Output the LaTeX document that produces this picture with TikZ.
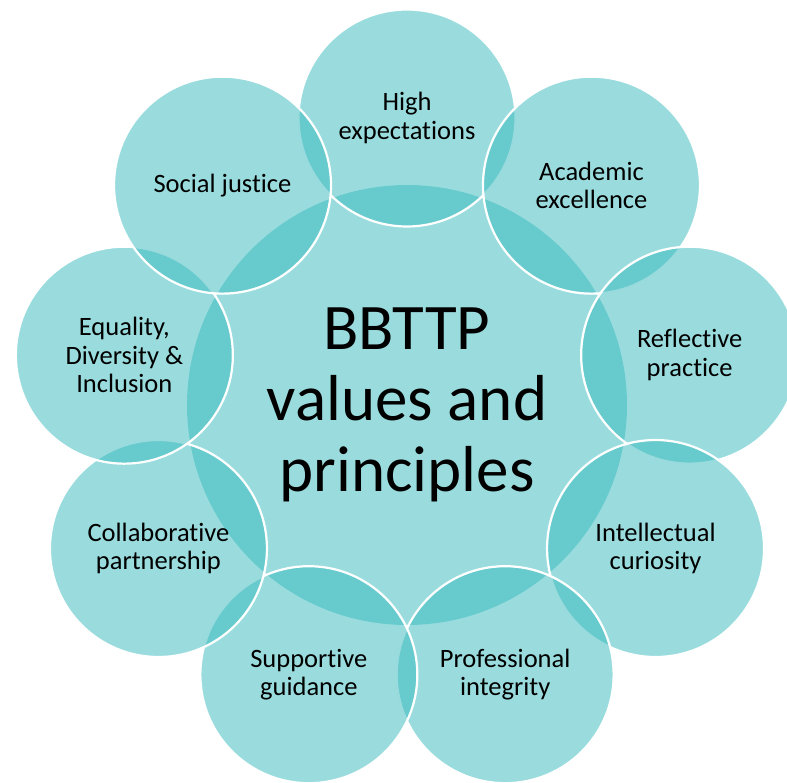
\documentclass[tikz,border=0pt]{standalone}
\usepackage{fontspec}
\setmainfont[Ligatures={NoCommon}]{Carlito}
\usetikzlibrary{calc}
\definecolor{bbteal}{RGB}{53,185,189}
\begin{document}
\begin{tikzpicture}[x=1pt,y=-1pt,
  disc/.style={circle, fill=bbteal, fill opacity=0.5, draw=white, draw opacity=1,
    line width=2.2pt, minimum size=217pt, inner sep=0pt},
  hub/.style={circle, fill=bbteal, fill opacity=0.5, draw=none,
    minimum size=440pt, inner sep=0pt},
  lbl/.style={align=center, text=black, font=\fontsize{26.5}{28.5}\selectfont},
  hublbl/.style={align=center, text=black, font=\fontsize{65}{71}\selectfont}]
\useasboundingbox (0,0) rectangle (787,782);
\clip (0,0) rectangle (787,782);
\coordinate (ctr) at (407,405);
\node[hub] (hub) at (ctr) {};
\node[disc] (c1) at ($(ctr)+(-90:287)$) {};
\node[disc] (c2) at ($(ctr)+(-50:287)$) {};
\node[disc] (c3) at ($(ctr)+(-10:287)$) {};
\node[disc] (c4) at ($(ctr)+(30:287)$) {};
\node[disc] (c5) at ($(ctr)+(70:287)$) {};
\node[disc] (c6) at ($(ctr)+(110:287)$) {};
\node[disc] (c7) at ($(ctr)+(150:287)$) {};
\node[disc] (c8) at ($(ctr)+(190:287)$) {};
\node[disc] (c9) at ($(ctr)+(230:287)$) {};
\node[hublbl] (thub) at (ctr) {BBTTP\\values and\\principles};
\node[lbl] (t1) at (c1) {High\\expectations};
\node[lbl] (t2) at (c2) {Academic\\excellence};
\node[lbl] (t3) at (c3) {Reflective\\practice};
\node[lbl] (t4) at (c4) {Intellectual\\curiosity};
\node[lbl] (t5) at (c5) {Professional\\integrity};
\node[lbl] (t6) at (c6) {Supportive\\guidance};
\node[lbl] (t7) at (c7) {Collaborative\\partnership};
\node[lbl] (t8) at (c8) {Equality,\\Diversity \&\\Inclusion};
\node[lbl] (t9) at (c9) {Social justice};
\end{tikzpicture}
\end{document}
